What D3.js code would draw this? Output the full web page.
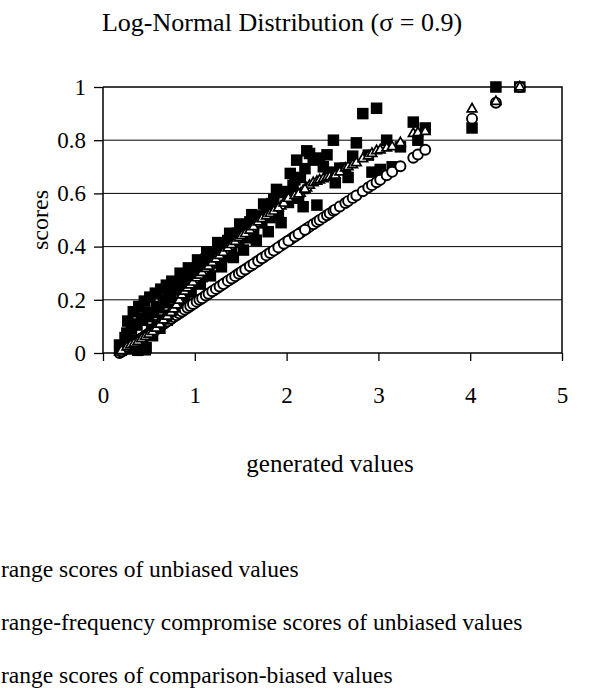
<!DOCTYPE html>
<html>
<head>
<meta charset="utf-8">
<script src="https://cdn.jsdelivr.net/npm/d3@7"></script>
<style>
  body { margin: 0; background: #fff; }
  svg text { font-family: "Liberation Serif", "Times New Roman", serif; fill: #000; }
</style>
</head>
<body>
<svg width="590" height="693"></svg>
<script>
// generated values (x) and the three score series
var generatedValues = [
  0.18,0.21,0.24,0.27,0.29,0.31,0.33,0.35,0.37,0.39,
  0.41,0.43,0.45,0.47,0.49,0.51,0.53,0.55,0.57,0.59,
  0.61,0.63,0.65,0.67,0.69,0.71,0.73,0.75,0.78,0.81,
  0.84,0.87,0.90,0.93,0.96,1.00,1.03,1.06,1.10,1.13,
  1.17,1.21,1.25,1.29,1.33,1.38,1.42,1.46,1.49,1.53,
  1.57,1.62,1.67,1.71,1.75,1.80,1.84,1.89,1.94,2.00,
  2.04,2.07,2.11,2.15,2.18,2.22,2.25,2.29,2.33,2.36,
  2.40,2.44,2.47,2.51,2.53,2.58,2.64,2.67,2.72,2.76,
  2.83,2.89,2.93,2.98,3.02,3.09,3.15,3.24,3.38,3.43,
  3.51,4.02,4.28,4.54,
  0.20,0.26,0.30,0.34,0.38,0.42,0.46,0.50,0.54,0.58,
  0.62,0.66,0.70,0.74,0.77,0.80,0.83,0.86,0.89,0.92,
  0.95,0.98,1.02,1.05,1.08,1.12,1.15,1.19,1.23,1.27,
  1.31,1.36,1.40,1.44,1.48,1.51,1.55,1.60,1.64,1.69,
  1.73,1.78,1.82,1.86,1.91,1.97,2.02,2.09,2.13,2.20
];
var rangeUnbiased = [
  0.000,0.007,0.014,0.021,0.025,0.030,0.034,0.039,0.044,0.048,
  0.053,0.057,0.062,0.067,0.071,0.076,0.080,0.085,0.089,0.094,
  0.099,0.103,0.108,0.112,0.117,0.122,0.126,0.131,0.138,0.145,
  0.151,0.158,0.165,0.172,0.179,0.188,0.195,0.202,0.211,0.218,
  0.227,0.236,0.245,0.255,0.264,0.275,0.284,0.294,0.301,0.310,
  0.319,0.330,0.342,0.351,0.360,0.372,0.381,0.392,0.404,0.418,
  0.427,0.434,0.443,0.452,0.459,0.468,0.475,0.484,0.493,0.500,
  0.509,0.518,0.525,0.535,0.539,0.551,0.564,0.571,0.583,0.592,
  0.608,0.622,0.631,0.642,0.651,0.668,0.681,0.702,0.734,0.746,
  0.764,0.881,0.941,1.000,
  0.005,0.018,0.028,0.037,0.046,0.055,0.064,0.073,0.083,0.092,
  0.101,0.110,0.119,0.128,0.135,0.142,0.149,0.156,0.163,0.170,
  0.177,0.184,0.193,0.200,0.206,0.216,0.223,0.232,0.241,0.250,
  0.259,0.271,0.280,0.289,0.298,0.305,0.314,0.326,0.335,0.346,
  0.356,0.367,0.376,0.385,0.397,0.411,0.422,0.438,0.447,0.463
];
var compromiseUnbiased = [
  0.003,0.010,0.016,0.025,0.028,0.032,0.035,0.038,0.040,0.045,
  0.050,0.055,0.060,0.064,0.068,0.073,0.078,0.083,0.088,0.098,
  0.105,0.112,0.120,0.127,0.134,0.141,0.148,0.155,0.170,0.185,
  0.205,0.225,0.235,0.248,0.258,0.275,0.285,0.295,0.310,0.320,
  0.333,0.347,0.360,0.372,0.385,0.400,0.413,0.425,0.436,0.444,
  0.453,0.467,0.485,0.500,0.508,0.520,0.528,0.540,0.552,0.575,
  0.587,0.590,0.595,0.600,0.610,0.620,0.630,0.640,0.645,0.650,
  0.655,0.660,0.662,0.665,0.668,0.680,0.695,0.700,0.707,0.715,
  0.730,0.740,0.750,0.760,0.763,0.770,0.775,0.790,0.825,0.828,
  0.832,0.917,0.945,1.000,
  0.008,0.022,0.030,0.036,0.043,0.053,0.062,0.070,0.080,0.093,
  0.108,0.124,0.138,0.152,0.165,0.180,0.198,0.218,0.232,0.244,
  0.255,0.266,0.282,0.292,0.302,0.317,0.326,0.340,0.353,0.366,
  0.378,0.394,0.407,0.419,0.432,0.440,0.448,0.461,0.474,0.492,
  0.504,0.515,0.524,0.533,0.545,0.563,0.581,0.592,0.597,0.615
];
var rangeBiased = [
  0.030,0.020,0.058,0.120,0.037,0.091,0.155,0.049,0.105,0.175,
  0.015,0.123,0.195,0.020,0.137,0.210,0.089,0.152,0.225,0.106,
  0.170,0.240,0.124,0.189,0.255,0.142,0.207,0.270,0.164,0.238,
  0.300,0.200,0.273,0.320,0.229,0.308,0.350,0.259,0.340,0.380,
  0.290,0.376,0.415,0.324,0.410,0.450,0.359,0.450,0.485,0.387,
  0.482,0.520,0.424,0.515,0.560,0.456,0.562,0.615,0.490,0.607,
  0.675,0.630,0.725,0.660,0.550,0.760,0.750,0.725,0.556,0.733,
  0.700,0.745,0.680,0.800,0.640,0.695,0.695,0.660,0.740,0.790,
  0.900,0.744,0.680,0.920,0.690,0.800,0.700,0.775,0.868,0.800,
  0.846,0.846,1.000,1.000,
  0.010,0.075,0.015,0.109,0.010,0.132,0.012,0.152,0.065,0.174,
  0.093,0.198,0.123,0.221,0.150,0.244,0.183,0.269,0.217,0.288,
  0.240,0.307,0.267,0.331,0.287,0.352,0.311,0.374,0.338,0.398,
  0.363,0.423,0.392,0.448,0.417,0.471,0.433,0.493,0.459,0.514,
  0.489,0.554,0.509,0.576,0.530,0.603,0.566,0.651,0.582,0.693
];
var xTicks = [0, 1, 2, 3, 4, 5];
var yTicks = [0, 0.2, 0.4, 0.6, 0.8, 1];
var seriesNames = [
  "range scores of unbiased values",
  "range-frequency compromise scores of unbiased values",
  "range scores of comparison-biased values"
];

var svg = d3.select("svg"),
  width = +svg.attr("width"),
  height = +svg.attr("height");

var x = d3.scaleLinear().domain([0, 5]).range([103, 562]);
var y = d3.scaleLinear().domain([0, 1]).range([353, 87]);

var points = generatedValues.map(function(v, i) {
  return { x: v, c: rangeUnbiased[i], t: compromiseUnbiased[i], s: rangeBiased[i] };
});

// gridlines
svg.append("g")
  .selectAll("line")
  .data(yTicks.filter(function(d) { return d > 0 && d < 1; }))
  .enter().append("line")
    .attr("x1", x(0)).attr("x2", x(5))
    .attr("y1", function(d) { return y(d); })
    .attr("y2", function(d) { return y(d); })
    .attr("stroke", "#000").attr("stroke-width", 1);

// plot border (top + right)
svg.append("path")
  .attr("d", "M" + x(0) + "," + y(1) + "H" + x(5) + "V" + y(0))
  .attr("fill", "none").attr("stroke", "#000").attr("stroke-width", 1.5);

var yAxis = svg.append("g")
  .attr("transform", "translate(" + x(0) + ",0)")
  .call(d3.axisLeft(y).tickValues(yTicks).tickSize(9).tickPadding(8).tickFormat(function(d) { return d; }));

var xAxis = svg.append("g")
  .attr("transform", "translate(0," + y(0) + ")")
  .call(d3.axisBottom(x).tickValues(xTicks).tickSize(8).tickPadding(26).tickFormat(function(d) { return d; }));

[yAxis, xAxis].forEach(function(ax) {
  ax.select(".domain").attr("stroke", "#000").attr("stroke-width", 1.5);
  ax.selectAll(".tick line").attr("stroke", "#000").attr("stroke-width", 1.3);
  ax.selectAll(".tick text")
    .style("font-family", "Liberation Serif")
    .style("font-size", "23px")
    .attr("fill", "#000");
});
xAxis.select(".domain").attr("d", "M" + x(0) + ",0H" + x(5));
yAxis.select(".domain").attr("d", "M0," + y(0) + "V" + y(1));

// series: squares first, then circles, then triangles
var sq = 11.5;
svg.append("g")
  .selectAll("rect")
  .data(points)
  .enter().append("rect")
    .attr("x", function(d) { return x(d.x) - sq / 2; })
    .attr("y", function(d) { return y(d.s) - sq / 2; })
    .attr("width", sq).attr("height", sq)
    .attr("fill", "#000");

svg.append("g")
  .selectAll("circle")
  .data(points)
  .enter().append("circle")
    .attr("cx", function(d) { return x(d.x); })
    .attr("cy", function(d) { return y(d.c); })
    .attr("r", 5)
    .attr("fill", "#fff").attr("stroke", "#000").attr("stroke-width", 1.9);

var tri = d3.symbol().type(d3.symbolTriangle).size(40);
svg.append("g")
  .selectAll("path")
  .data(points)
  .enter().append("path")
    .attr("d", tri)
    .attr("transform", function(d) { return "translate(" + x(d.x) + "," + y(d.t) + ")"; })
    .attr("fill", "#fff").attr("stroke", "#000").attr("stroke-width", 1.7);

// titles
svg.append("text")
  .attr("x", 282).attr("y", 31)
  .style("text-anchor", "middle")
  .style("font-size", "26px")
  .text("Log-Normal Distribution (\u03c3 = 0.9)");

svg.append("text")
  .attr("transform", "translate(48,220) rotate(-90)")
  .style("text-anchor", "middle")
  .style("font-size", "24px")
  .text("scores");

svg.append("text")
  .attr("x", 330).attr("y", 472)
  .style("text-anchor", "middle")
  .style("font-size", "25px")
  .text("generated values");

// legend (markers sit left of the visible area)
var legend = svg.selectAll(".legend")
  .data(seriesNames)
  .enter().append("g")
  .attr("class", "legend")
  .attr("transform", function(d, i) { return "translate(0," + (569 + i * 53) + ")"; });

legend.append("text")
  .attr("x", 1).attr("y", 8)
  .style("font-size", "23.5px")
  .text(function(d) { return d; });

legend.each(function(d, i) {
  var g = d3.select(this);
  if (i == 0) {
    g.append("circle").attr("cx", -30).attr("cy", 0).attr("r", 5)
      .attr("fill", "#fff").attr("stroke", "#000").attr("stroke-width", 1.9);
  } else if (i == 1) {
    g.append("path").attr("d", tri).attr("transform", "translate(-30,0)")
      .attr("fill", "#fff").attr("stroke", "#000").attr("stroke-width", 1.7);
  } else {
    g.append("rect").attr("x", -30 - sq / 2).attr("y", -sq / 2)
      .attr("width", sq).attr("height", sq).attr("fill", "#000");
  }
});
</script>
</body>
</html>
